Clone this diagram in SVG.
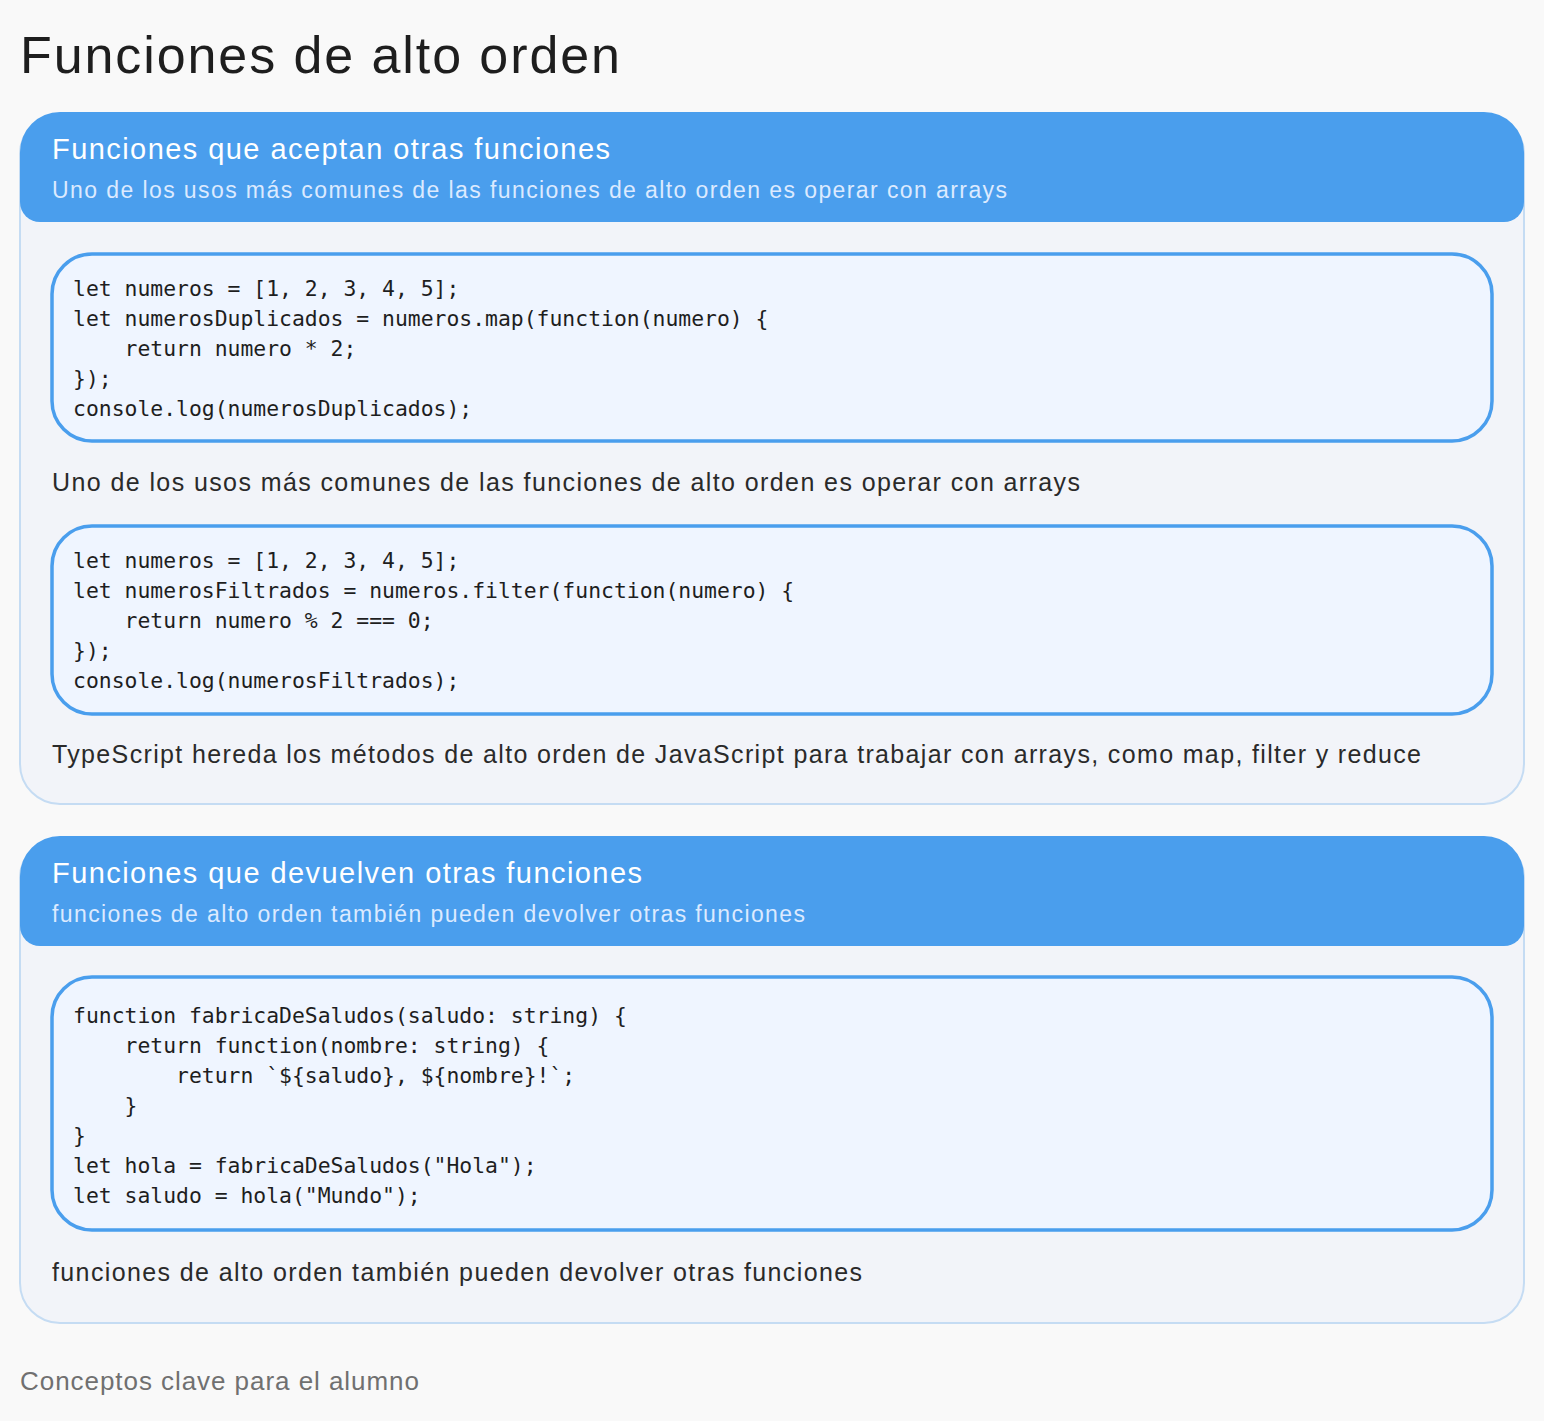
<svg xmlns="http://www.w3.org/2000/svg" width="1544" height="1421" viewBox="0 0 1544 1421">
<style>
.card{fill:#f2f4f9;stroke:#c5dcf3;stroke-width:2}
.hdr{fill:#4a9eed}
.ht{font-family:"Liberation Sans",Arial,sans-serif;font-size:29px;fill:#fff}
.hs{font-family:"Liberation Sans",Arial,sans-serif;font-size:23px;fill:#dceaff}
.code{fill:#eff5ff;stroke:#4a9eed;stroke-width:3.5}
.ct{font-family:"DejaVu Sans Mono","Liberation Mono",monospace;font-size:21.4px;fill:#1e1e1e;white-space:pre}
.p{font-family:"Liberation Sans",Arial,sans-serif;font-size:25px;fill:#2a2a2a}
</style>
<rect width="1544" height="1421" fill="#f9f9f9"/>
<text x="20" y="73" font-family="'Liberation Sans',Arial,sans-serif" font-size="52" fill="#1e1e1e" textLength="600">Funciones de alto orden</text>
<g id="card1">
<rect class="card" x="20" y="114" width="1504" height="690" rx="40"/>
<path class="hdr" d="M60 112 H1484 A40 40 0 0 1 1524 152 V202 A20 20 0 0 1 1504 222 H40 A20 20 0 0 1 20 202 V152 A40 40 0 0 1 60 112 Z"/>
<text class="ht" x="52" y="159" textLength="558">Funciones que aceptan otras funciones</text>
<text class="hs" x="52" y="198" textLength="955">Uno de los usos más comunes de las funciones de alto orden es operar con arrays</text>
<g id="code1">
<rect class="code" x="52" y="254" width="1440" height="187" rx="40"/>
<text class="ct" x="73" y="296">let numeros = [1, 2, 3, 4, 5];</text>
<text class="ct" x="73" y="326">let numerosDuplicados = numeros.map(function(numero) {</text>
<text class="ct" x="73" y="356">    return numero * 2;</text>
<text class="ct" x="73" y="386">});</text>
<text class="ct" x="73" y="416">console.log(numerosDuplicados);</text>
</g>
<text class="p" x="52" y="491" textLength="1028">Uno de los usos más comunes de las funciones de alto orden es operar con arrays</text>
<g id="code2">
<rect class="code" x="52" y="526" width="1440" height="188" rx="40"/>
<text class="ct" x="73" y="568">let numeros = [1, 2, 3, 4, 5];</text>
<text class="ct" x="73" y="598">let numerosFiltrados = numeros.filter(function(numero) {</text>
<text class="ct" x="73" y="628">    return numero % 2 === 0;</text>
<text class="ct" x="73" y="658">});</text>
<text class="ct" x="73" y="688">console.log(numerosFiltrados);</text>
</g>
<text class="p" x="52" y="763" textLength="1369">TypeScript hereda los métodos de alto orden de JavaScript para trabajar con arrays, como map, filter y reduce</text>
</g>
<g id="card2">
<rect class="card" x="20" y="838" width="1504" height="485" rx="40"/>
<path class="hdr" d="M60 836 H1484 A40 40 0 0 1 1524 876 V926 A20 20 0 0 1 1504 946 H40 A20 20 0 0 1 20 926 V876 A40 40 0 0 1 60 836 Z"/>
<text class="ht" x="52" y="883" textLength="590">Funciones que devuelven otras funciones</text>
<text class="hs" x="52" y="922" textLength="753">funciones de alto orden también pueden devolver otras funciones</text>
<g id="code3">
<rect class="code" x="52" y="977" width="1440" height="253" rx="40"/>
<text class="ct" x="73" y="1023">function fabricaDeSaludos(saludo: string) {</text>
<text class="ct" x="73" y="1053">    return function(nombre: string) {</text>
<text class="ct" x="73" y="1083">        return `${saludo}, ${nombre}!`;</text>
<text class="ct" x="73" y="1113">    }</text>
<text class="ct" x="73" y="1143">}</text>
<text class="ct" x="73" y="1173">let hola = fabricaDeSaludos("Hola");</text>
<text class="ct" x="73" y="1203">let saludo = hola("Mundo");</text>
</g>
<text class="p" x="52" y="1281" textLength="810">funciones de alto orden también pueden devolver otras funciones</text>
</g>
<g id="connectors"/>
<text x="20" y="1390" font-family="'Liberation Sans',Arial,sans-serif" font-size="26" fill="#707070" textLength="399">Conceptos clave para el alumno</text>
</svg>
